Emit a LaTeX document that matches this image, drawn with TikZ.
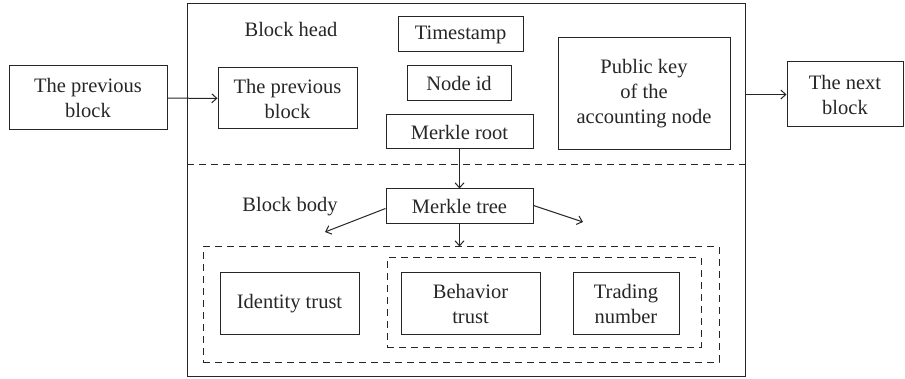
\documentclass[tikz,border=0pt]{standalone}
\usepackage{fontspec}
\setmainfont{Liberation Serif}
\usetikzlibrary{arrows.meta}
\begin{document}
\begin{tikzpicture}[x=1pt,y=-1pt,
  every node/.style={font=\fontsize{20.5}{25}\selectfont, text=black!85},
  box/.style={draw=black!85, line width=1pt, align=center, inner sep=0pt},
  dbox/.style={draw=black!85, line width=1pt, dash pattern=on 7pt off 5pt, inner sep=0pt},
  arr/.style={draw=black!85, line width=1pt, -{Straight Barb[length=5pt,width=9pt]}},
  lbl/.style={inner sep=0pt}]
\useasboundingbox (0,0) rectangle (905,379);
\node[box, minimum width=558, minimum height=372] (outer) at (466,190) {};
\node[box, minimum width=158, minimum height=64] (prevL) at (88,98) {The previous\\block};
\node[box, minimum width=139, minimum height=61] (prevI) at (287.5,98.5) {The previous\\block};
\node[box, minimum width=125, minimum height=35] (ts) at (460.5,34.5) {Timestamp};
\node[box, minimum width=104, minimum height=35] (nid) at (459,83.5) {Node id};
\node[box, minimum width=147, minimum height=34] (mroot) at (459.5,132) {Merkle root};
\node[box, minimum width=172, minimum height=112] (pk) at (644,94) {Public key\\of the\\accounting node};
\node[box, minimum width=116, minimum height=65] (next) at (845,94.5) {The next\\block};
\node[lbl] (bhead) at (291,29) {Block head};
\node[lbl] (bbody) at (290,207) {Block body};
\node[box, minimum width=147, minimum height=35] (mtree) at (459.5,206.5) {Merkle tree};
\node[dbox, minimum width=516, minimum height=115] (od) at (461,304.5) {};
\node[dbox, minimum width=314, minimum height=89] (idb) at (544,302.5) {};
\node[box, minimum width=139, minimum height=62] (ident) at (289.5,304) {Identity trust};
\node[box, minimum width=139, minimum height=62] (behav) at (470.5,304) {Behavior\\trust};
\node[box, minimum width=106, minimum height=62] (trad) at (626,304) {Trading\\number};
\coordinate (sepL) at (187,165);
\coordinate (sepR) at (745,165);
\coordinate (la) at (325,232);
\coordinate (ra) at (583,222);
\draw[dbox] (sepL) -- (sepR);
\draw[arr] (prevL) -- (prevI);
\draw[arr] (outer.east |- next.west) -- (next.west);
\draw[arr] (mroot.south) -- (mtree.north);
\draw[arr] ([yshift=-2pt]mtree.west) -- (la);
\draw[arr] ([yshift=1pt]mtree.east) -- (ra);
\draw[arr] (mtree.south) -- (mtree.south |- od.north);
\end{tikzpicture}
\end{document}
